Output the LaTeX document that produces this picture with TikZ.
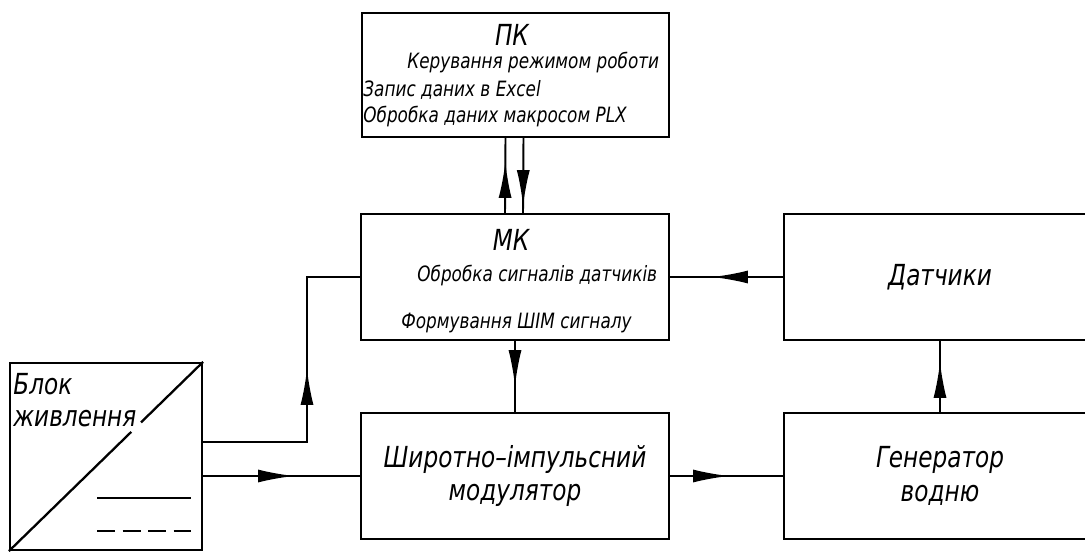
\documentclass[tikz,border=0pt]{standalone}
\usepackage{fontspec}
\setmainfont{DejaVu Sans}[FakeStretch=0.8]
\usetikzlibrary{arrows.meta, decorations.markings, calc}

\begin{document}
\begin{tikzpicture}[
    x=0.02cm, y=-0.02cm,
    block/.style={draw, line width=1.3pt, minimum width=6.16cm, minimum height=2.52cm,
                  align=center, font=\fontsize{16.5}{19}\selectfont\itshape},
    head/.style={inner sep=0pt, font=\fontsize{16.5}{18}\selectfont\itshape},
    note/.style={anchor=west, inner sep=0pt, font=\fontsize{12}{13}\selectfont\itshape},
    arr/.style={line width=1.1pt},
    midarr/.style={arr, postaction={decorate}, decoration={markings,
        mark=at position #1 with {\arrow{Latex[length=0.72cm, width=0.26cm]}}}}
  ]
    \clip (0,0) rectangle (1085,554);

    \node[block, minimum width=6.14cm, minimum height=2.48cm] (pk) at (515.5,75) {};
    \node[block] (mk) at (515,277) {};
    \node[block, minimum width=6.24cm] (sensors) at (940,277) {Датчики};
    \node[block] (pwm) at (515,476) {Широтно–імпульсний\\модулятор};
    \node[block, minimum width=6.24cm] (gen) at (940,476) {Генератор\\водню};
    \node[block, minimum width=3.84cm, minimum height=3.74cm] (psu) at (106,456.5) {};

    % texts inside the PC and MC boxes
    \node[head] (pktitle) at (512,35) {ПК};
    \node[note] (pkmode) at (407,63) {Керування режимом роботи};
    \node[note] (pkexcel) at (363,90) {Запис даних в Excel};
    \node[note] (pkmacro) at (363,117) {Обробка даних макросом PLX};
    \node[head] (mktitle) at (511,240) {МК};
    \node[note] (mksens) at (417,276) {Обробка сигналів датчиків};
    \node[note] (mkpwm) at (401,323) {Формування ШІМ сигналу};

    % power supply symbol
    \draw[line width=1.3pt] (psu.south west) -- ($(psu.south west)!0.63!(psu.north east)$);
    \draw[line width=1.3pt] ($(psu.south west)!0.68!(psu.north east)$) -- (psu.north east);
    \node[head, anchor=north west, align=left] (psutxt) at (13,373) {Блок\\живлення};
    \draw[arr] ($(psu.south east)+(-106,-53)$) -- ++(94,0);
    \draw[arr, dash pattern=on 0.36cm off 0.15cm] ($(psu.south east)+(-106,-20)$) -- ++(94,0);

    \coordinate (bend) at (307,442);
    \draw[midarr=1.82cm] (psu.east |- pwm.west) -- (pwm.west);
    \draw[midarr=3.54cm] (psu.east |- bend) -- (bend) -- (bend |- mk.west) -- (mk.west);
    \draw[midarr=0.9cm] (mk.south) -- (pwm.north);
    \draw[midarr=1.18cm] (pwm.east) -- (gen.west);
    \draw[midarr=1.0cm] (gen.north) -- (sensors.south);
    \draw[midarr=1.42cm] (sensors.west) -- (mk.east);
    \draw[midarr=1.02cm] ([xshift=-0.2cm]mk.north) -- ([xshift=-0.2cm]pk.south);
    \draw[midarr=1.36cm] ([xshift=0.16cm]pk.south) -- ([xshift=0.16cm]mk.north);
\end{tikzpicture}
\end{document}
